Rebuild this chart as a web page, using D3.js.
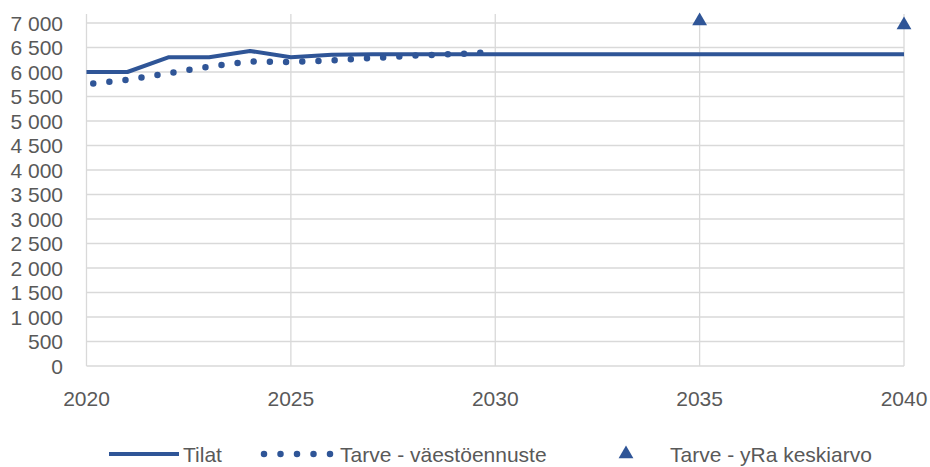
<!DOCTYPE html>
<html>
<head>
<meta charset="utf-8">
<script src="https://cdn.jsdelivr.net/npm/d3@7"></script>
<style>
  body { margin: 0; background: #fff; }
  text { font-family: "Liberation Sans", Arial, sans-serif; fill: #595959; }
</style>
</head>
<body>
<div class="chart"></div>
<script>
/*** DATA ***/
const years = d3.range(2020, 2041);
const tilat = [6000, 6000, 6300, 6300, 6430, 6300, 6350, 6360, 6360, 6360, 6360,
               6360, 6360, 6360, 6360, 6360, 6360, 6360, 6360, 6360, 6360];
const tarveYears = [2020, 2021, 2022, 2023, 2024, 2025, 2026, 2027, 2028, 2029, 2030];
const tarve = [5750, 5840, 5975, 6110, 6215, 6205, 6235, 6285, 6335, 6365, 6405];
const yraYears = [2035, 2040];
const yra = [7040, 6960];
const xTicks = [2020, 2025, 2030, 2035, 2040];
const yTicks = d3.range(0, 7001, 500);
const legendLabels = ['Tilat', 'Tarve - väestöennuste', 'Tarve - yRa keskiarvo'];

/*** LAYOUT ***/
const width = 930, height = 467;
const blue = '#2f5597';
const grid = '#d9d9d9';
const fontSize = '21px';

const svg = d3.select('.chart')
  .append('svg')
  .attr('width', width)
  .attr('height', height);

const x = d3.scaleLinear().domain([2020, 2040]).range([86.5, 904]);
const y = d3.scaleLinear().domain([0, 7000]).range([366, 23]);
const plotTop = 14;

// gridlines
svg.append('g')
  .selectAll('line')
  .data(yTicks.slice(1))
  .join('line')
  .attr('x1', x(2020)).attr('x2', x(2040))
  .attr('y1', d => y(d)).attr('y2', d => y(d))
  .style('stroke', grid).style('stroke-width', 1.3);

svg.append('g')
  .selectAll('line')
  .data(xTicks)
  .join('line')
  .attr('x1', d => x(d)).attr('x2', d => x(d))
  .attr('y1', plotTop).attr('y2', y(0))
  .style('stroke', grid).style('stroke-width', 1.3);

// axis line at the bottom
svg.append('line')
  .attr('x1', x(2020)).attr('x2', x(2040))
  .attr('y1', y(0)).attr('y2', y(0))
  .style('stroke', grid).style('stroke-width', 1.3);

// tick labels
const fmt = d => d3.format(',')(d).replace(/,/g, ' ');

svg.append('g')
  .selectAll('text')
  .data(yTicks)
  .join('text')
  .attr('x', 63)
  .attr('y', d => y(d))
  .attr('dy', '0.36em')
  .attr('text-anchor', 'end')
  .style('font-size', fontSize)
  .text(fmt);

svg.append('g')
  .selectAll('text')
  .data(xTicks)
  .join('text')
  .attr('x', d => x(d))
  .attr('y', 406)
  .attr('text-anchor', 'middle')
  .style('font-size', fontSize)
  .text(d => d);

/*** SERIES ***/
const line = d3.line().x(d => x(d[0])).y(d => y(d[1]));

svg.append('path')
  .datum(d3.zip(years, tilat))
  .attr('d', line)
  .style('fill', 'none')
  .style('stroke', blue)
  .style('stroke-width', 4)
  .style('stroke-linejoin', 'round');

svg.append('path')
  .datum(d3.zip(tarveYears, tarve))
  .attr('d', line)
  .style('fill', 'none')
  .style('stroke', blue)
  .style('stroke-width', 6.5)
  .style('stroke-linecap', 'round')
  .style('stroke-dasharray', '0 16.2')
  .style('stroke-dashoffset', -6.8);

const tri = d3.symbol().type(d3.symbolTriangle).size(95);

svg.append('g')
  .selectAll('path')
  .data(d3.zip(yraYears, yra))
  .join('path')
  .attr('transform', d => `translate(${x(d[0])}, ${y(d[1])})`)
  .attr('d', tri)
  .style('fill', blue);

/*** LEGEND ***/
const legend = svg.append('g').attr('transform', 'translate(0, 454)');

legend.append('line')
  .attr('x1', 109).attr('x2', 179)
  .style('stroke', blue).style('stroke-width', 4);

legend.append('line')
  .attr('x1', 264).attr('x2', 334)
  .style('stroke', blue).style('stroke-width', 6.5)
  .style('stroke-linecap', 'round')
  .style('stroke-dasharray', '0 16.5');

legend.append('path')
  .attr('transform', 'translate(626, 0)')
  .attr('d', tri)
  .style('fill', blue);

legend.selectAll('text')
  .data(legendLabels)
  .join('text')
  .attr('x', (d, i) => [183, 340, 670][i])
  .attr('dy', '0.36em')
  .style('font-size', fontSize)
  .text(d => d);
</script>
</body>
</html>
